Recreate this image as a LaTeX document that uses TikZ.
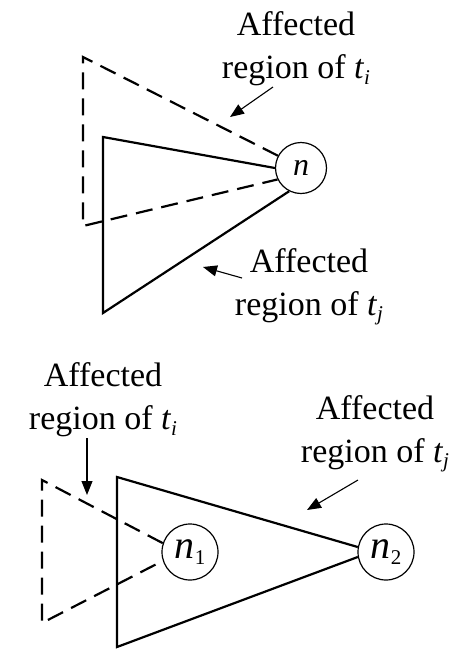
\documentclass[tikz,border=0pt]{standalone}
\usepackage{fontspec}
\setmainfont{Liberation Serif}
\usetikzlibrary{arrows.meta}
\newcommand{\lbsub}[1]{\raisebox{-0.35ex}{\fontsize{21}{21}\selectfont #1}}
\tikzset{
  lbl/.style={font=\fontsize{34}{43}\selectfont, align=center, inner sep=0pt},
  nd/.style={circle, draw, line width=1.2pt, inner sep=0pt},
  trisolid/.style={line width=2.2pt, line join=miter},
  tridash/.style={line width=2.2pt, dash pattern=on 17pt off 9pt, line join=miter},
  arr/.style={line width=1.1pt, -{Triangle[length=14pt,width=11pt]}}
}
\begin{document}
\begin{tikzpicture}[x=1pt,y=-1pt]
\useasboundingbox (0,0) rectangle (465,649);

% ---------- top figure ----------
\node[nd, minimum size=51pt, font=\fontsize{32}{32}\selectfont\itshape] (n) at (301,168) {n};
\coordinate (a1) at (83,57);
\coordinate (a2) at (83,226);
\coordinate (b1) at (103,137);
\coordinate (b2) at (103,313);
\draw[tridash] (n.152) -- (a1) -- (a2) -- (n.206);
\draw[trisolid] (n.180) -- (b1) -- (b2) -- (n.243);

\node[lbl] (L1) at (296,49) {Affected\\region of \textit{t}\lbsub{\textit{i}}};
\node[lbl] (L2) at (309,287) {Affected\\region of \textit{t}\lbsub{\textit{j}}};
\coordinate (p1) at (273,87);
\coordinate (q1) at (230,117);
\coordinate (p2) at (242,278);
\coordinate (q2) at (203,267);
\draw[arr] (p1) -- (q1);
\draw[arr] (p2) -- (q2);

% ---------- bottom figure ----------
\node[nd, minimum size=56pt, font=\fontsize{40}{40}\selectfont] (n1) at (190,552) {\textit{n}\lbsub{1}};
\node[nd, minimum size=56pt, font=\fontsize{40}{40}\selectfont] (n2) at (386,552) {\textit{n}\lbsub{2}};
\coordinate (c1) at (42,480);
\coordinate (c2) at (42,623);
\coordinate (d1) at (117,477);
\coordinate (d2) at (117,647);
\draw[tridash] (n1.162) -- (c1) -- (c2) -- (n1.198);
\draw[trisolid] (n2.170) -- (d1) -- (d2) -- (n2.190);

\node[lbl] (L3) at (103,400) {Affected\\region of \textit{t}\lbsub{\textit{i}}};
\node[lbl] (L4) at (375,434) {Affected\\region of \textit{t}\lbsub{\textit{j}}};
\coordinate (p3) at (87,438);
\coordinate (q3) at (87,495);
\coordinate (p4) at (358,480);
\coordinate (q4) at (307,510);
\draw[arr] (p3) -- (q3);
\draw[arr] (p4) -- (q4);
\end{tikzpicture}
\end{document}
